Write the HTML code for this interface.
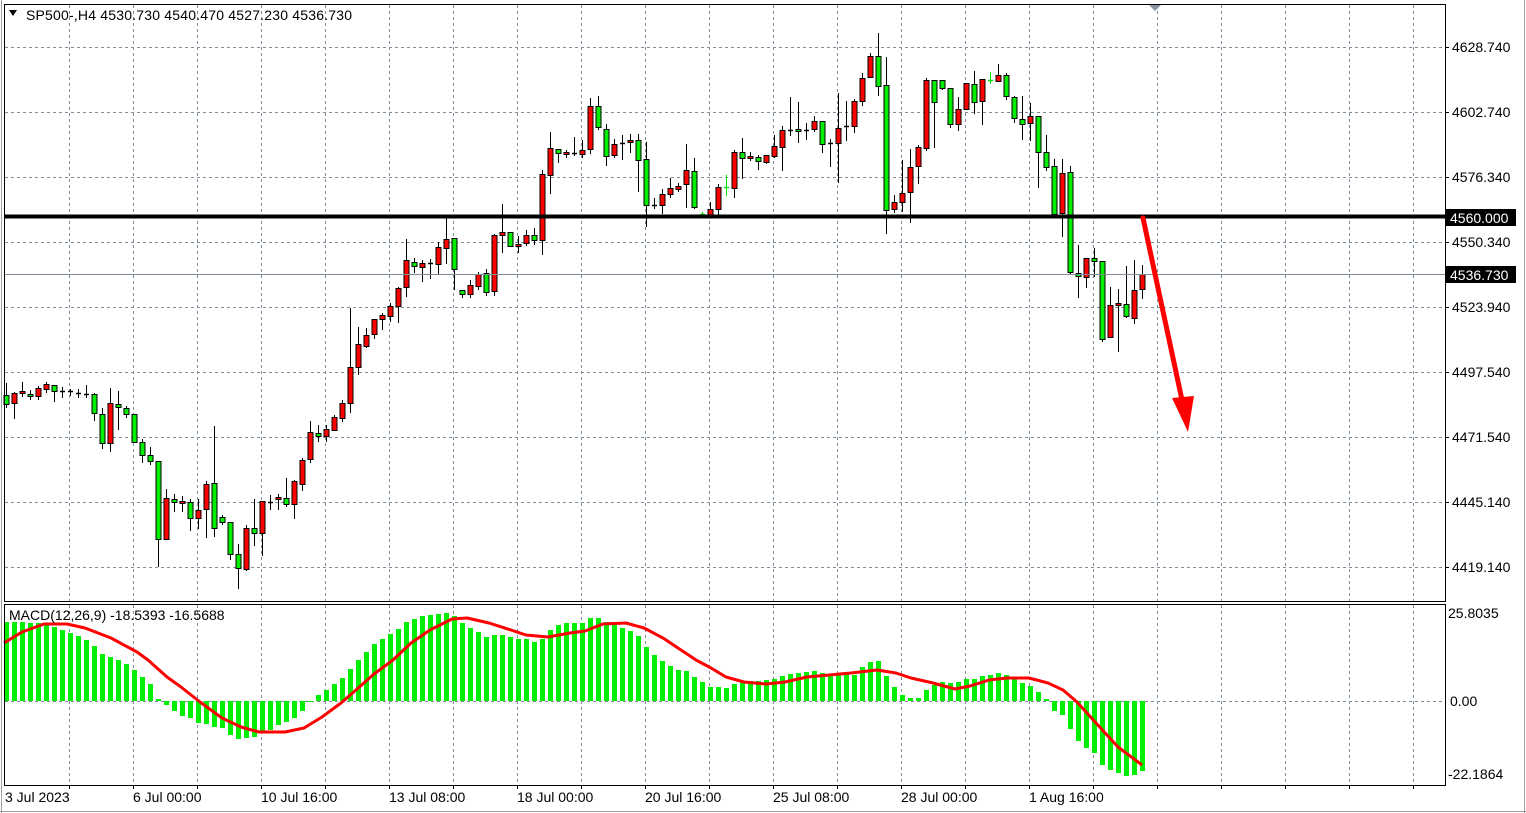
<!DOCTYPE html>
<html><head><meta charset="utf-8"><style>
html,body{margin:0;padding:0;background:#fff;}
svg{display:block;}
text{font-family:"Liberation Sans","DejaVu Sans",sans-serif;font-size:14px;fill:#000;}
</style></head><body>
<svg id="s" width="1526" height="813" xmlns="http://www.w3.org/2000/svg">
<rect x="0" y="0" width="1526" height="813" fill="#fff"/>
<g id="grid"></g>
<g id="macd"></g>
<g id="candles"></g>
<rect x="4.5" y="4.5" width="1441" height="597" fill="none" stroke="#000" stroke-width="1"/>
<rect x="4.5" y="604.5" width="1441" height="181" fill="none" stroke="#000" stroke-width="1"/>
<line x1="1.5" y1="0" x2="1.5" y2="813" stroke="#a0a0a0"/>
<line x1="1524.5" y1="0" x2="1524.5" y2="813" stroke="#a0a0a0"/>
<line x1="0" y1="811.5" x2="1526" y2="811.5" stroke="#a0a0a0"/>
<polygon points="9,10 17,10 13,16" fill="#000"/>
<text x="26" y="20" textLength="326">SP500-,H4  4530.730 4540.470 4527.230 4536.730</text>
<polygon points="1149,5 1161,5 1155,11" fill="#8a96a3"/>
<line x1="5" y1="274.5" x2="1445" y2="274.5" stroke="#7f8c99" stroke-width="1"/>
<line x1="5" y1="216.5" x2="1445" y2="216.5" stroke="#000" stroke-width="4"/>
<line x1="1143" y1="218" x2="1182" y2="400" stroke="#f00" stroke-width="5" stroke-linecap="round"/>
<polygon points="1172,398 1194,396 1188,432" fill="#f00"/>
<g id="axis"></g>
<rect x="1446" y="209" width="70" height="17" fill="#000"/>
<text x="1450" y="223" style="fill:#fff">4560.000</text>
<rect x="1446" y="266" width="70" height="17" fill="#000"/>
<text x="1450" y="280" style="fill:#fff">4536.730</text>
<text x="9" y="620">MACD(12,26,9) -18.5393 -16.5688</text>
<text x="1448" y="618">25.8035</text>
<text x="1450" y="706">0.00</text>
<text x="1448" y="779">-22.1864</text>
<g id="dates"></g>
</svg>
<script>
var NS="http://www.w3.org/2000/svg";
function el(p,t,a){var e=document.createElementNS(NS,t);for(var k in a)e.setAttribute(k,a[k]);document.getElementById(p).appendChild(e);return e;}
var G="#7f8c99";
var hl=[47,112,177,242,307,372,437,502,567];
var hv=["4628.740","4602.740","4576.340","4550.340","4523.940","4497.540","4471.540","4445.140","4419.140"];
hl.forEach(function(y,i){el("grid","line",{x1:5,y1:y+.5,x2:1445,y2:y+.5,stroke:G,"stroke-dasharray":"3,3"});
el("axis","line",{x1:1445,y1:y+.5,x2:1449,y2:y+.5,stroke:"#000"});
var t=el("axis","text",{x:1452,y:y+5});t.textContent=hv[i];});
for(var x=69;x<1445;x+=64){el("grid","line",{x1:x+.5,y1:5,x2:x+.5,y2:601,stroke:G,"stroke-dasharray":"3,3"});
el("grid","line",{x1:x+.5,y1:605,x2:x+.5,y2:785,stroke:G,"stroke-dasharray":"3,3"});
el("grid","line",{x1:x+.5,y1:785,x2:x+.5,y2:789,stroke:"#000"});}
el("grid","line",{x1:5,y1:701.5,x2:1445,y2:701.5,stroke:G,"stroke-dasharray":"3,3"});
var dl=[[5,"3 Jul 2023"],[133,"6 Jul 00:00"],[261,"10 Jul 16:00"],[389,"13 Jul 08:00"],[517,"18 Jul 00:00"],[645,"20 Jul 16:00"],[773,"25 Jul 08:00"],[901,"28 Jul 00:00"],[1029,"1 Aug 16:00"]];
dl.forEach(function(d){var t=el("dates","text",{x:d[0],y:802});t.textContent=d[1];});
var C="g 395 404 383 407|r 393 403 392 418|r 391 393 382 396|g 394 396 390 399|r 388 396 386 399|r 384 389 382 392|g 385 391 385 401|d 391 391 387 397|d 391 391 389 395|d 393 393 389 397|d 394 394 385 397|g 394 413 393 420|g 414 443 408 448|r 403 443 388 451|g 404 407 391 429|g 408 414 406 417|g 414 442 414 442|g 442 455 439 462|g 455 461 447 464|g 461 539 461 566|r 498 539 489 539|g 499 502 494 511|r 501 503 496 511|g 502 518 499 530|r 510 518 499 528|r 484 509 481 537|g 483 528 426 536|g 517 522 515 524|g 522 554 522 559|g 554 568 544 588|r 528 569 525 570|g 528 533 499 545|r 501 533 501 555|d 502 502 495 509|r 497 499 494 509|g 498 504 478 506|r 481 504 480 518|r 460 484 458 490|r 432 459 421 462|g 433 436 425 441|r 429 436 425 441|r 417 430 415 430|r 403 418 400 421|r 367 403 308 412|r 344 367 327 374|r 335 346 328 347|r 319 334 319 338|r 315 319 313 329|r 306 316 303 321|r 288 306 287 322|r 260 287 239 296|g 262 266 258 272|r 263 267 260 281|d 263 263 259 278|r 247 264 242 273|r 239 248 218 263|g 238 269 238 289|g 290 294 290 297|r 285 294 280 297|r 274 286 272 289|g 273 292 269 295|r 235 291 234 295|r 232 235 204 252|g 232 246 232 246|r 244 246 236 252|r 235 243 230 245|g 235 240 228 244|r 174 240 170 254|r 148 175 132 193|g 149 153 149 162|r 152 154 150 157|d 153 153 137 155|r 150 154 140 157|r 106 149 98 153|g 106 127 96 129|g 129 156 124 165|r 144 155 139 157|d 143 143 135 159|r 140 142 134 152|g 140 160 134 191|g 159 205 142 226|d 205 205 198 208|r 194 205 189 213|r 188 194 178 197|r 186 189 183 191|r 170 184 144 207|g 171 207 158 208|l 214 214 212 217|r 209 216 202 217|r 187 209 184 216|l 187 187 175 195|r 152 188 150 197|g 152 158 138 178|r 156 158 152 160|g 157 161 155 169|r 155 162 155 163|r 146 156 135 157|r 130 147 126 170|d 130 130 97 135|g 129 131 102 142|d 130 130 123 139|r 121 129 116 131|g 121 144 121 152|d 143 143 139 166|r 128 143 93 182|d 126 126 101 140|r 101 126 99 132|r 78 101 73 105|r 56 77 53 77|g 56 86 33 95|g 85 210 57 233|r 202 209 195 212|r 193 202 160 211|r 167 192 149 222|r 147 166 145 183|r 80 148 78 150|g 80 102 80 147|g 80 88 80 89|g 88 124 88 127|r 109 124 97 130|r 83 109 83 109|g 84 102 71 113|r 79 101 79 124|l 80 80 72 83|r 75 81 64 81|g 75 96 73 99|g 97 118 96 122|g 119 124 96 139|r 116 123 103 140|g 116 152 116 187|g 152 167 135 170|g 166 214 159 214|r 173 213 159 236|g 172 272 166 273|g 273 276 245 297|r 258 277 258 287|g 258 261 248 276|g 261 339 261 341|r 305 337 287 337|r 303 305 289 351|g 304 316 266 317|r 290 318 260 323|r 274 289 265 298".split("|");
C.forEach(function(s,i){var p=s.split(" "),c=p[0],bt=+p[1],bb=+p[2],wt=+p[3],wb=+p[4],x=6+8*i;
var col=c=="l"?"#00e000":"#000";
el("candles","line",{x1:x+.5,y1:wt,x2:x+.5,y2:wb+1,stroke:col,"stroke-width":1});
if(c=="d"||c=="l"){el("candles","line",{x1:x-2,y1:bt+.5,x2:x+3,y2:bt+.5,stroke:col,"stroke-width":1.5});}
else{var h=Math.max(bb-bt,2);el("candles","rect",{x:x-2,y:bt+.5,width:5,height:h,fill:c=="r"?"#ff0000":"#00ee00",stroke:"#000","stroke-width":1});}
});
var H=[622,622,622,623,623,623,627,630,633,636,640,646,654,657,660,664,670,677,684,699,705,711,716,718,723,724,727,728,735,739,738,737,733,730,725,722,718,711,702,695,690,684,678,669,660,652,644,639,634,629,622,619,616,615,614,613,616,623,628,632,637,635,635,637,639,639,642,639,630,625,623,623,623,618,618,622,625,628,631,636,647,655,661,666,670,671,677,682,687,687,688,684,682,681,681,680,679,676,674,673,672,671,673,676,674,674,675,667,662,661,676,687,695,698,698,690,685,682,683,682,679,679,676,675,673,675,677,683,686,692,699,711,715,729,741,748,753,765,770,773,776,775,771];
H.forEach(function(y,i){var x=6+8*i;var t=Math.min(y,701),b=Math.max(y,701);if(b-t<1)b=t+1;
el("macd","rect",{x:x-2,y:t,width:5,height:b-t,fill:"#00ee00"});});
var S=[[4,643],[22,632],[44,624],[67,624],[85,628],[111,638],[137,652],[148,660],[167,677],[181,687],[200,702],[222,718],[241,727],[259,732],[285,732],[304,728],[322,717],[341,703],[356,690],[374,674],[393,660],[411,643],[430,630],[452,619],[467,618],[489,623],[511,630],[526,635],[548,637],[570,633],[585,631],[603,624],[626,623],[644,628],[663,638],[681,650],[696,660],[711,668],[726,677],[744,682],[766,684],[785,682],[807,677],[829,675],[851,673],[877,670],[896,673],[911,678],[933,683],[955,689],[970,686],[989,680],[1007,678],[1029,678],[1048,683],[1063,690],[1077,702],[1096,723],[1118,747],[1142,765]];
el("macd","polyline",{points:S.map(function(p){return p.join(",")}).join(" "),fill:"none",stroke:"#ff0000","stroke-width":3,"stroke-linejoin":"round"});
</script>
</body></html>
